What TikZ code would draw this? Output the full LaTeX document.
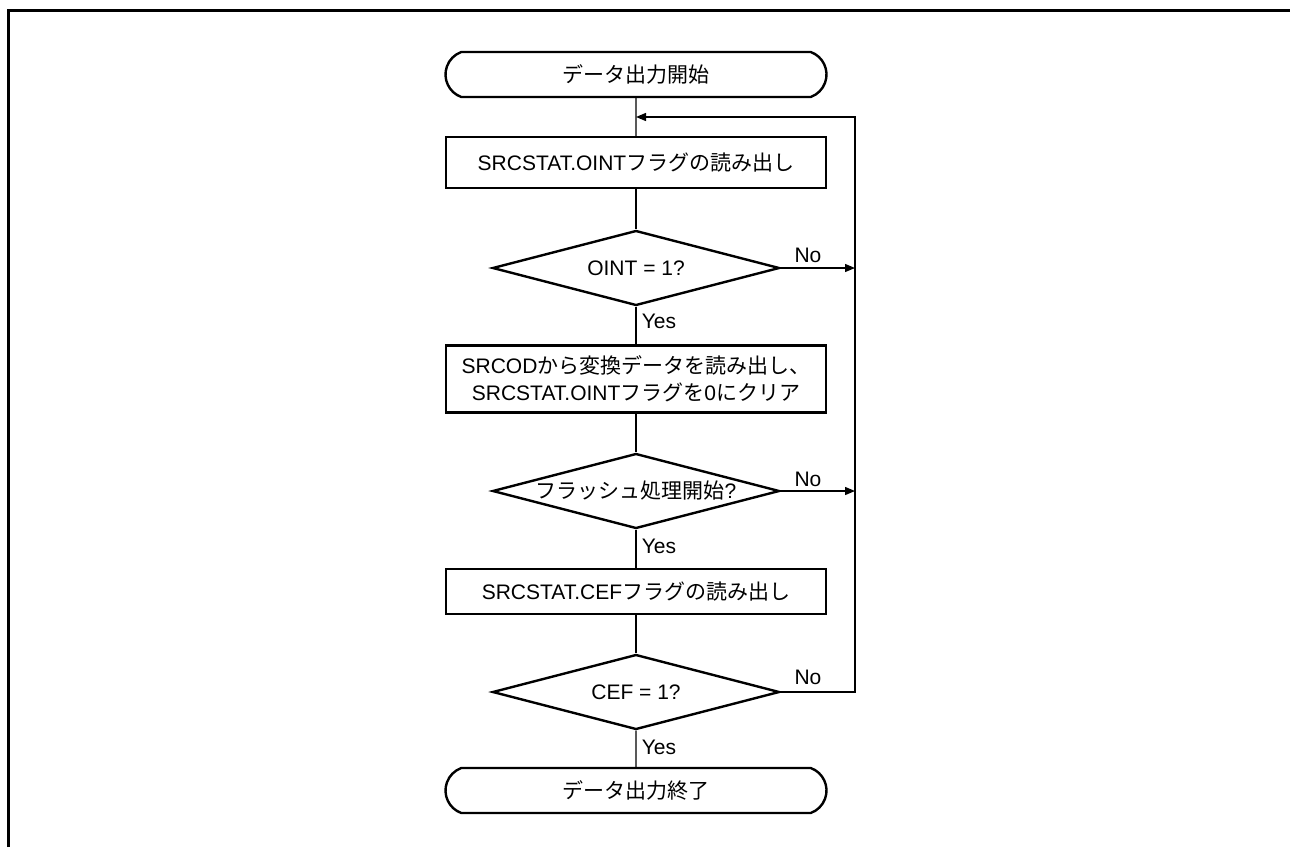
\documentclass[tikz,border=0pt]{standalone}
\usepackage{fontspec}
\setmainfont{Liberation Sans}
\newfontfamily\jp{Noto Sans CJK JP}
\usepackage{tikz}
\usetikzlibrary{positioning,arrows.meta,shapes.geometric,shapes.misc,calc}

\begin{document}
\begin{tikzpicture}[
          x=1pt, y=-1pt,
          every node/.style={font=\fontsize{21}{27}\selectfont},
          term/.style={draw, rounded rectangle, rounded rectangle arc length=140, line width=2.4pt, minimum width=381pt, minimum height=45pt, inner sep=0pt},
          proc/.style={draw, rectangle, line width=2.4pt, minimum width=380pt, minimum height=47pt, align=center, inner sep=0pt},
          test/.style={draw, diamond, aspect=3.8, line width=2.4pt, minimum width=287pt, minimum height=75pt, inner sep=0pt},
          link/.style={line width=1.3pt},
          arr/.style={link, -{Triangle[length=10pt, width=8pt]}},
          tag/.style={inner sep=0pt}
      ]
        \useasboundingbox (0,0) rectangle (1290,847);
        \draw[line width=2.6pt] (8.5,847) -- (8.5,10.5) -- (1290,10.5);
        \node[term] (start) at (636,74.5) {{\jp データ出力開始}};
        \node[proc] (rd1) at (636,162.5) [minimum height=51pt] {SRCSTAT.OINT{\jp フラグの読み出し}};
        \node[test] (q1) at (636,268) {OINT = 1?};
        \node[proc] (clr) at (636,379) [minimum height=67pt] {SRCOD{\jp から変換データを読み出し、}\\SRCSTAT.OINT{\jp フラグを}0{\jp にクリア}};
        \node[test] (q2) at (636,491) {{\jp フラッシュ処理開始}?};
        \node[proc] (rd2) at (636,591.5) [minimum height=45pt] {SRCSTAT.CEF{\jp フラグの読み出し}};
        \node[test] (q3) at (636,692) {CEF = 1?};
        \node[term] (stop) at (636,790.5) {{\jp データ出力終了}};
        \coordinate (join) at (636,117);
        \coordinate (rail) at (855,117);
        \draw[link] (start) -- (rd1);
        \draw[link] (rd1) -- (q1);
        \draw[link] (q1) -- (clr);
        \draw[link] (clr) -- (q2);
        \draw[link] (q2) -- (rd2);
        \draw[link] (rd2) -- (q3);
        \draw[link] (q3) -- (stop);
        \draw[arr] (q1.east) -- (q1.east -| rail);
        \draw[arr] (q2.east) -- (q2.east -| rail);
        \draw[arr] (q3.east) -| (rail) -- (join);
        \node[tag] (no1) at (808,255) {No};
        \node[tag] (no2) at (808,479) {No};
        \node[tag] (no3) at (808,677) {No};
        \node[tag] (yes1) at (659,321) {Yes};
        \node[tag] (yes2) at (659,546) {Yes};
        \node[tag] (yes3) at (659,747) {Yes};
      \end{tikzpicture}
\end{document}
